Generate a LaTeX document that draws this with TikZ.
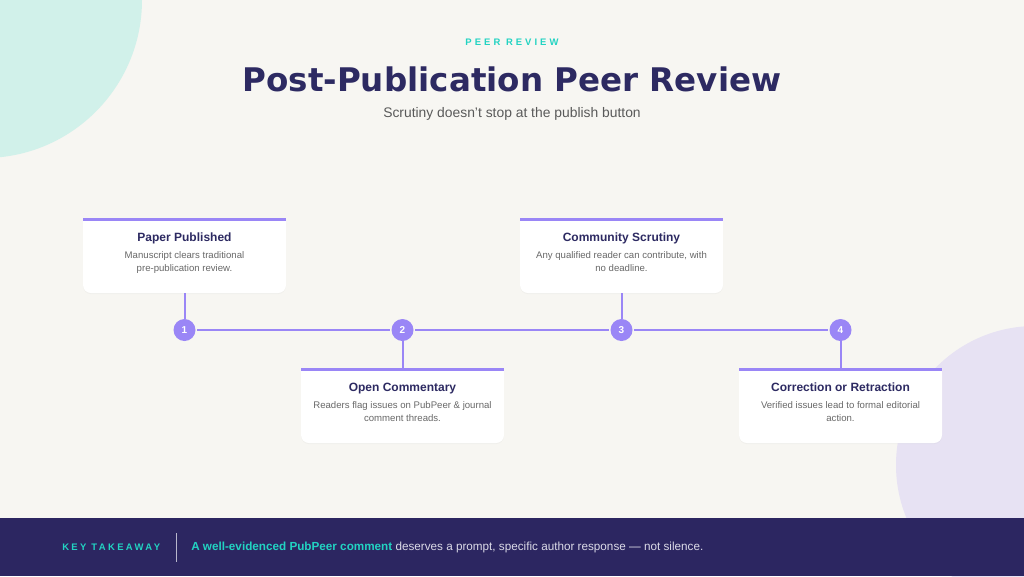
\documentclass[tikz,border=0pt]{standalone}
\usepackage{fontspec}
\usetikzlibrary{shadows}
\setmainfont{Liberation Sans}
\newfontfamily\dejavu{DejaVu Sans}
\newfontfamily\spacedA[LetterSpace=32]{Liberation Sans}
\newfontfamily\spacedB[LetterSpace=25]{Liberation Sans}
\definecolor{bg}{HTML}{F7F6F2}
\definecolor{tealsoft}{HTML}{D1F1EA}
\definecolor{lavsoft}{HTML}{E7E2F3}
\definecolor{navy}{HTML}{2C2661}
\definecolor{titlenavy}{HTML}{2D2A62}
\definecolor{accent}{HTML}{9A86F6}
\definecolor{tealtxt}{HTML}{22D3C2}
\definecolor{graytxt}{HTML}{686868}
\definecolor{subgray}{HTML}{5A5A5A}
\definecolor{foottxt}{HTML}{DCDBE8}
\newcommand\PRcard[6]{%
  \node[cardbox, anchor=north] (#1) at (#2,#3) {};
  \fill[white, drop shadow={opacity=0.05, shadow xshift=0pt, shadow yshift=-0.8pt}]
    (#1.north west) {[rounded corners=6pt] -- (#1.south west) -- (#1.south east)} -- (#1.north east) -- cycle;
  \fill[accent] (#1.north west) rectangle ([yshift=-2.4pt]#1.north east);
  \node[ctitle] (#1t) at (#2,#3+23.7) {#4};
  \node[cdesc] (#1d) at (#2,#3+53.6) {#5\\#6};
}
\begin{document}
\begin{tikzpicture}[x=0.75pt,y=-0.75pt,
  cardbox/.style={minimum width=152.25pt, minimum height=56.25pt, inner sep=0pt, outer sep=0pt},
  ctitle/.style={anchor=base, inner sep=0pt, text=titlenavy, font=\bfseries\fontsize{9}{11}\selectfont},
  cdesc/.style={anchor=base, inner sep=0pt, text=graytxt, align=center, font=\fontsize{7.2}{10}\selectfont},
  dot/.style={circle, fill=accent, minimum size=16.5pt, inner sep=0pt, text=white, font=\bfseries\fontsize{7.5}{9}\selectfont},
  conn/.style={draw=accent, line width=1.5pt},
  hconn/.style={conn, shorten <=1pt, shorten >=1pt}
]
\useasboundingbox (0,0) rectangle (1024,576);
\fill[bg] (0,0) rectangle (1024,576);
\begin{scope}
  \clip (0,0) rectangle (1024,576);
  \fill[tealsoft] (-16,0) circle[radius=158];
  \fill[lavsoft] (1035,465) circle[radius=139];
\end{scope}
% header
\node[anchor=base, inner sep=0pt, text=tealtxt, font=\spacedA\bfseries\fontsize{7.1}{9}\selectfont] (kicker) at (512,45) {PEER REVIEW};
\node[anchor=base, inner sep=0pt, text=titlenavy, font=\dejavu\bfseries\fontsize{24.4}{29}\selectfont] (title) at (512,91.5) {Post-Publication Peer Review};
\node[anchor=base, inner sep=0pt, text=subgray, font=\fontsize{10.4}{12}\selectfont] (subtitle) at (512,117) {Scrutiny doesn't stop at the publish button};
% cards
\PRcard{c1}{184.5}{218}{Paper Published}{Manuscript clears traditional}{pre-publication review.}
\PRcard{c2}{402.5}{368}{Open Commentary}{Readers flag issues on PubPeer \& journal}{comment threads.}
\PRcard{c3}{621.5}{218}{Community Scrutiny}{Any qualified reader can contribute, with}{no deadline.}
\PRcard{c4}{840.5}{368}{Correction or Retraction}{Verified issues lead to formal editorial}{action.}
% timeline dots
\node[dot] (n1) at (184.5,330) {1};
\node[dot] (n2) at (402.5,330) {2};
\node[dot] (n3) at (621.5,330) {3};
\node[dot] (n4) at (840.5,330) {4};
\draw[hconn] (n1) -- (n2);
\draw[hconn] (n2) -- (n3);
\draw[hconn] (n3) -- (n4);
\draw[conn] (c1.south) -- (n1);
\draw[conn] (n2) -- (c2.north);
\draw[conn] (c3.south) -- (n3);
\draw[conn] (n4) -- (c4.north);
% footer
\fill[navy] (0,518) rectangle (1024,576);
\node[anchor=base west, inner sep=0pt, text=tealtxt, font=\spacedB\bfseries\fontsize{7.1}{9}\selectfont] (key) at (62,550) {KEY TAKEAWAY};
\coordinate (dv1) at (176.5,533);
\coordinate (dv2) at (176.5,562);
\draw[draw=foottxt!80!navy, line width=0.9pt] (dv1) -- (dv2);
\node[anchor=base west, inner sep=0pt, text=foottxt, font=\fontsize{8.78}{11}\selectfont] (takeaway) at (191,550) {\textcolor{tealtxt}{\bfseries A well-evidenced PubPeer comment} deserves a prompt, specific author response — not silence.};
\end{tikzpicture}
\end{document}
